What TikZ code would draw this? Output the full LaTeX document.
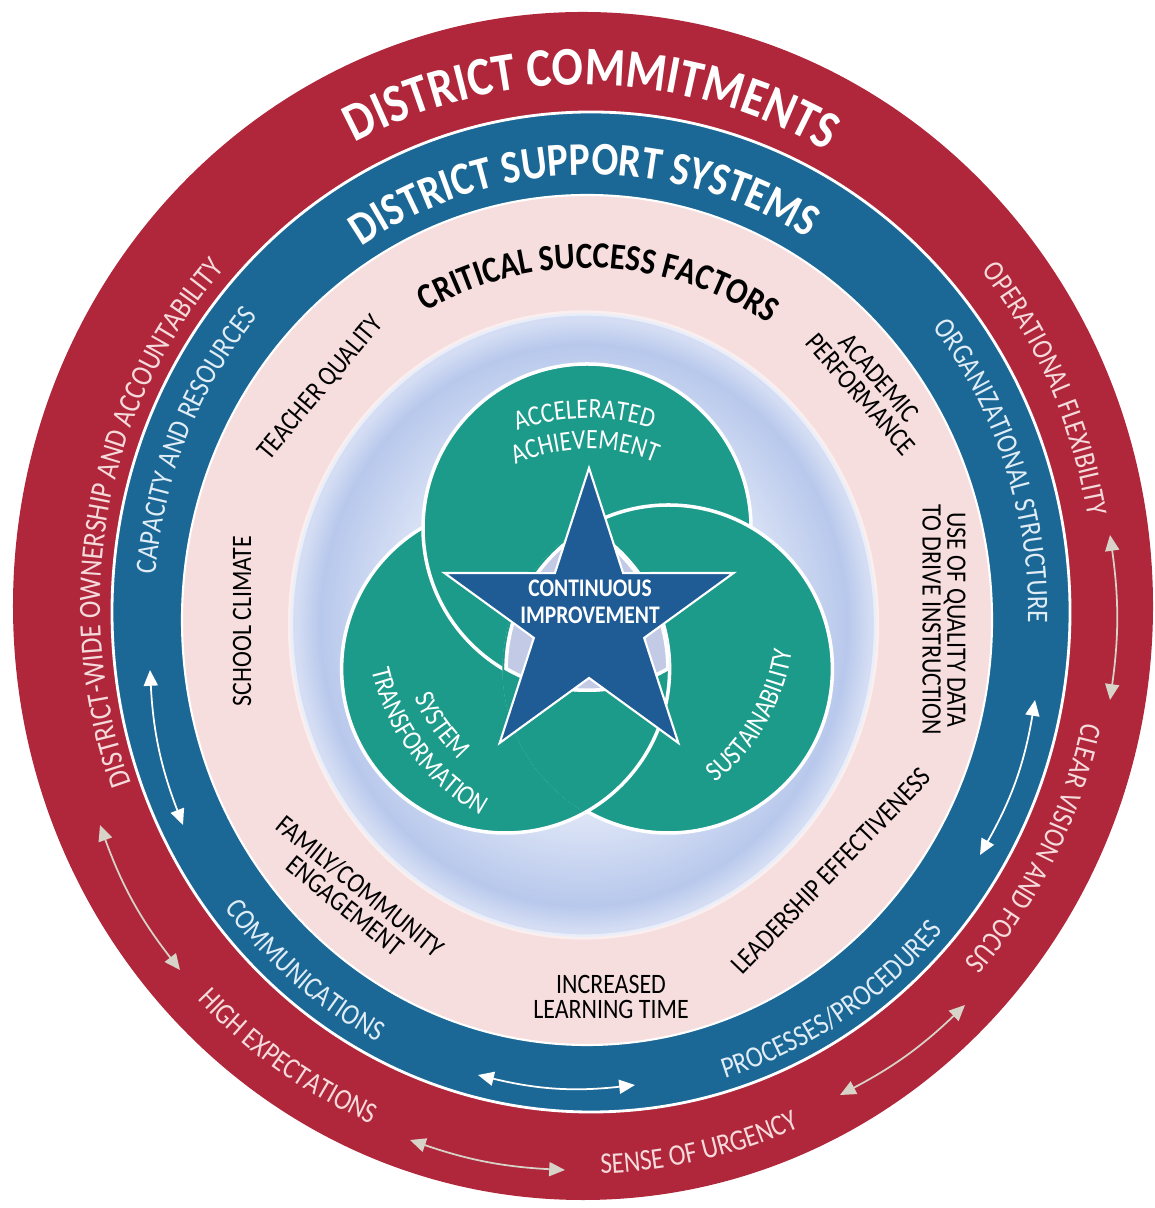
\documentclass[tikz,border=0pt]{standalone}
\usepackage{fontspec}
\setmainfont{Carlito}[FakeStretch=0.85]
\usetikzlibrary{arrows.meta,decorations.text}

\definecolor{ringred}{RGB}{176,38,58}
\definecolor{ringblue}{RGB}{27,104,150}
\definecolor{ringpink}{RGB}{246,221,222}
\definecolor{tealfill}{RGB}{28,155,139}
\definecolor{starblue}{RGB}{31,92,150}
\definecolor{holefill}{RGB}{194,202,230}
\definecolor{lbinner}{RGB}{232,237,249}
\definecolor{lbmid}{RGB}{184,200,236}
\definecolor{lbedge}{RGB}{212,221,243}
\definecolor{redtext}{RGB}{245,218,220}
\definecolor{bluetext}{RGB}{224,236,246}
\definecolor{arrowgray}{RGB}{216,211,200}

\pgfdeclareradialshading{lbdisk}{\pgfpoint{0bp}{0bp}}{color(0bp)=(lbinner); color(13bp)=(lbinner); color(22.5bp)=(lbmid); color(24.5bp)=(lbedge); color(25bp)=(lbedge); color(50bp)=(lbedge)}

% fonts of the ring titles and labels
\newcommand{\bigtitle}{\bfseries\fontsize{15.5}{18}\selectfont\color{white}}
\newcommand{\midtitle}{\bfseries\fontsize{13.3}{16}\selectfont\color{white}}
\newcommand{\csftitle}{\bfseries\fontsize{10.5}{12}\selectfont\color{black}}
\newcommand{\redlabel}{\fontsize{8.5}{10}\selectfont\color{redtext}}
\newcommand{\bluelabel}{\fontsize{8.5}{10}\selectfont\color{bluetext}}
\newcommand{\teallabel}{\fontsize{8}{9}\selectfont\color{white}}

\tikzset{
  ringlabel/.style={decorate, decoration={text along path, text align=center, text={#1}}},
  pinklabel/.style={font=\fontsize{8}{7}\selectfont, text=black, align=center, inner sep=0pt},
  tealcircle/.style={fill=tealfill, draw=white, line width=1pt},
  bothtips/.style={{Triangle[length=4.5pt,width=4pt]}-{Triangle[length=4.5pt,width=4pt]}, line width=0.5pt},
}

\begin{document}
\begin{tikzpicture}
  \useasboundingbox (-5.85,-5.93) rectangle (5.69,6.15);
  % rings
  \fill[ringred] (-0.02,0.09) ellipse [x radius=5.70, y radius=5.94];
  \filldraw[fill=ringblue, draw=white, line width=0.8pt] (0.06,0.03) ellipse [x radius=4.79, y radius=5.00];
  \filldraw[fill=ringpink, draw=white, line width=0.6pt] (0.02,-0.05) ellipse [x radius=4.05, y radius=4.25];
  \shade[shading=lbdisk] (-0.015,-0.10) ellipse [x radius=2.93, y radius=3.12];
  \draw[white, opacity=0.5, line width=1.5pt] (-0.015,-0.10) ellipse [x radius=2.93, y radius=3.12];

  % three circles
  \coordinate (ctop) at (0.02,0.87);
  \coordinate (cleft) at (-0.794,-0.54);
  \coordinate (cright) at (0.834,-0.54);
  \filldraw[tealcircle] (cleft) circle[radius=1.64];
  \filldraw[tealcircle] (ctop) circle[radius=1.64];
  \filldraw[tealcircle] (cright) circle[radius=1.64];
  \begin{scope}
    \clip (cright) circle[radius=1.66];
    \filldraw[tealcircle] (cleft) circle[radius=1.64];
  \end{scope}
  \begin{scope}
    \clip (cleft) circle[radius=1.64];
    \clip (ctop) circle[radius=1.64];
    \clip (cright) circle[radius=1.64];
    \fill[holefill] (cleft) circle[radius=1.64];
    \draw[white, line width=2pt] (cleft) circle[radius=1.64] (ctop) circle[radius=1.64] (cright) circle[radius=1.64];
  \end{scope}

  % star
  \begin{scope}[shift={(0.04,-0.05)}]
    \filldraw[fill=starblue, draw=white, line width=0.6pt] (90:1.52) -- (126:0.58) -- (162:1.52) -- (198:0.58) -- (234:1.52)
      -- (270:0.58) -- (306:1.52) -- (342:0.58) -- (18:1.52) -- (54:0.58) -- cycle;
  \end{scope}
  \node[font=\bfseries\fontsize{7.2}{7.7}\selectfont, text=white, align=center] (ci) at (0.05,0.135) {CONTINUOUS\\IMPROVEMENT};

  % circle texts
  \path[ringlabel={|\teallabel|ACCELERATED}] ([shift={(0.03,-0.06)}]130:2.03) arc[start angle=130, end angle=52, radius=2.03];
  \path[ringlabel={|\teallabel|ACHIEVEMENT}] ([shift={(0.03,-0.06)}]131:1.72) arc[start angle=131, end angle=51, radius=1.72];
  \path[ringlabel={|\teallabel|SYSTEM}] ([shift={(0.03,-0.06)}]185:1.90) arc[start angle=185, end angle=246, radius=1.90];
  \path[ringlabel={|\teallabel|TRANSFORMATION}] ([shift={(0.03,-0.06)}]180:2.22) arc[start angle=180, end angle=254, radius=2.22];
  \path[ringlabel={|\teallabel|SUSTAINABILITY}] ([shift={(0.03,-0.06)}]-70:2.06) arc[start angle=-70, end angle=10, radius=2.06];

  % critical success factors
  \path[ringlabel={|\csftitle|CRITICAL SUCCESS FACTORS}] ([shift={(0.02,-0.05)}]150:3.36 and 3.52) arc[start angle=150, end angle=26, x radius=3.36, y radius=3.52];
  \node[pinklabel, rotate=50] (tq) at (-2.64,2.27) {TEACHER QUALITY};
  \node[pinklabel, rotate=-49] (ap) at (2.85,2.29) {ACADEMIC\\PERFORMANCE};
  \node[pinklabel, rotate=90] (sc) at (-3.43,-0.06) {SCHOOL CLIMATE};
  \node[pinklabel, rotate=-90] (uq) at (3.59,-0.05) {USE OF QUALITY DATA\\TO DRIVE INSTRUCTION};
  \node[pinklabel, rotate=-39] (fc) at (-2.32,-2.81) {FAMILY/COMMUNITY\\ENGAGEMENT};
  \node[pinklabel] (il) at (0.26,-3.82) {INCREASED\\LEARNING TIME};
  \node[pinklabel, rotate=46] (le) at (2.46,-2.56) {LEADERSHIP EFFECTIVENESS};

  % district support systems
  \path[ringlabel={|\midtitle|DISTRICT SUPPORT SYSTEMS}] ([shift={(0.06,0.03)}]160:4.19 and 4.37) arc[start angle=160, end angle=22, x radius=4.19, y radius=4.37];
  \path[ringlabel={|\bluelabel|CAPACITY AND RESOURCES}] ([shift={(0.06,0.03)}]210:4.37 and 4.56) arc[start angle=210, end angle=104, x radius=4.37, y radius=4.56];
  \path[ringlabel={|\bluelabel|ORGANIZATIONAL STRUCTURE}] ([shift={(0.06,0.03)}]70:4.37 and 4.56) arc[start angle=70, end angle=-32, x radius=4.37, y radius=4.56];
  \path[ringlabel={|\bluelabel|COMMUNICATIONS}] ([shift={(0.06,0.03)}]195:4.64 and 4.84) arc[start angle=195, end angle=266, x radius=4.64, y radius=4.84];
  \path[ringlabel={|\bluelabel|PROCESSES/PROCEDURES}] ([shift={(0.06,0.03)}]262:4.66 and 4.87) arc[start angle=262, end angle=343, x radius=4.66, y radius=4.87];

  % district commitments
  \path[ringlabel={|\bigtitle|DISTRICT COMMITMENTS}] ([shift={(-0.02,0.09)}]160:5.00 and 5.21) arc[start angle=160, end angle=18, x radius=5.00, y radius=5.21];
  \path[ringlabel={|\redlabel\fontsize{8.8}{10}\selectfont|DISTRICT-WIDE OWNERSHIP AND ACCOUNTABILITY}] ([shift={(-0.02,0.09)}]240:4.83 and 5.03) arc[start angle=240, end angle=98, x radius=4.83, y radius=5.03];
  \path[ringlabel={|\redlabel|OPERATIONAL FLEXIBILITY}] ([shift={(-0.02,0.09)}]60:5.12 and 5.34) arc[start angle=60, end angle=-11, x radius=5.12, y radius=5.34];
  \path[ringlabel={|\redlabel|CLEAR VISION AND FOCUS}] ([shift={(-0.02,0.09)}]8:5.12 and 5.34) arc[start angle=8, end angle=-63, x radius=5.12, y radius=5.34];
  \path[ringlabel={|\redlabel|HIGH EXPECTATIONS}] ([shift={(-0.02,0.09)}]200:5.40 and 5.63) arc[start angle=200, end angle=272, x radius=5.40, y radius=5.63];
  \path[ringlabel={|\redlabel|SENSE OF URGENCY}] ([shift={(-0.02,0.09)}]250:5.45 and 5.68) arc[start angle=250, end angle=315, x radius=5.45, y radius=5.68];

  % arrows in the red ring
  \coordinate (ra1) at (5.25,0.80);
  \coordinate (ra2) at (5.25,-0.85);
  \coordinate (rb1) at (3.80,-3.90);
  \coordinate (rb2) at (2.55,-4.80);
  \coordinate (rc1) at (-1.75,-5.25);
  \coordinate (rc2) at (-0.20,-5.55);
  \coordinate (rd1) at (-4.85,-2.10);
  \coordinate (rd2) at (-4.05,-3.55);
  \draw[bothtips, arrowgray] (ra1) to[bend left=8] (ra2);
  \draw[bothtips, arrowgray] (rb1) to[bend left=8] (rb2);
  \draw[bothtips, arrowgray] (rc1) to[bend right=8] (rc2);
  \draw[bothtips, arrowgray] (rd1) to[bend right=9] (rd2);

  % arrows in the blue ring
  \coordinate (ba1) at (-4.35,-0.55);
  \coordinate (ba2) at (-4.02,-2.10);
  \coordinate (bb1) at (-1.07,-4.60);
  \coordinate (bb2) at (0.50,-4.70);
  \coordinate (bc1) at (4.50,-0.85);
  \coordinate (bc2) at (3.95,-2.40);
  \draw[bothtips, white] (ba1) to[bend right=9] (ba2);
  \draw[bothtips, white] (bb1) to[bend right=10] (bb2);
  \draw[bothtips, white] (bc1) to[bend left=10] (bc2);
\end{tikzpicture}
\end{document}
